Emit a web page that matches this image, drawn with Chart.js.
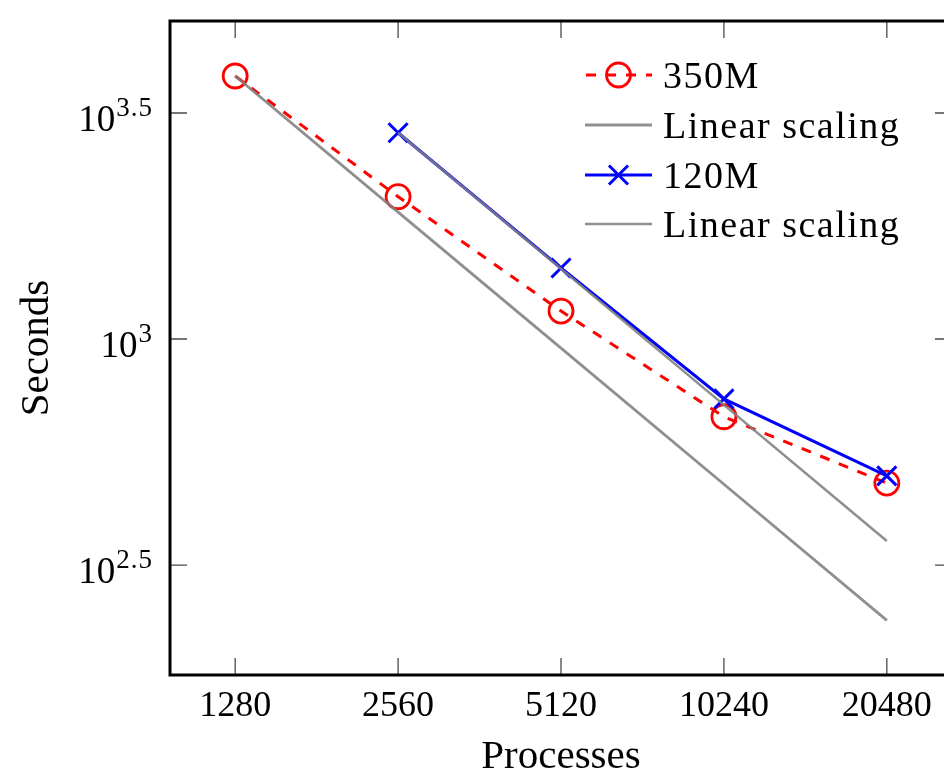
<!DOCTYPE html>
<html>
<head>
<meta charset="utf-8">
<title>Strong scaling</title>
<script src="https://cdn.jsdelivr.net/npm/chart.js@4/dist/chart.umd.min.js"></script>
<style>
  html, body { margin: 0; padding: 0; background: #fff; overflow: hidden; width: 944px; height: 772px; }
  #wrap { position: absolute; left: 0; top: 0; width: 960px; height: 790px; }
</style>
</head>
<body>
<div id="wrap"><canvas id="c" width="960" height="790"></canvas></div>
<script>
// Number of processes (x, log base 2 spacing)
const processes = [1280, 2560, 5120, 10240, 20480];
const xTickLabels = ['1280', '2560', '5120', '10240', '20480'];

// Wall-clock time in seconds
const seconds350M = [3818, 2065, 1153, 673, 480];
const linear350M  = [3818, 1909, 954.5, 477.3, 238.6];
const seconds120M = [null, 2860, 1436, 737, 498];
const linear120M  = [null, 2860, 1430, 715, 357.5];

// y ticks are drawn as powers of ten: 10^e
const yTickExponents = [2.5, 3, 3.5];
const yTickBase = '10';

const seriesNames = ['350M', 'Linear scaling', '120M', 'Linear scaling'];

const SERIF = '"Liberation Serif", "DejaVu Serif", serif';
const RED = 'rgb(255,0,0)';
const BLUE = 'rgb(0,0,255)';
const GRAY = 'rgba(128,128,128,0.88)';

function toPoints(values) {
  const pts = [];
  values.forEach((v, i) => { if (v !== null) pts.push({ x: processes[i], y: v }); });
  return pts;
}

const datasets = [
  {
    label: seriesNames[0], data: toPoints(seconds350M), order: 4,
    borderColor: RED, borderWidth: 3, borderDash: [10, 10],
    pointStyle: 'circle', pointRadius: 12, pointBorderWidth: 2.8,
    pointBorderColor: RED, pointBackgroundColor: 'rgba(0,0,0,0)'
  },
  {
    label: seriesNames[1], data: toPoints(linear350M), order: 3,
    borderColor: GRAY, borderWidth: 2.8, pointRadius: 0
  },
  {
    label: seriesNames[2], data: toPoints(seconds120M), order: 2,
    borderColor: BLUE, borderWidth: 3,
    pointStyle: 'crossRot', pointRadius: 13.5, pointBorderWidth: 3,
    pointBorderColor: BLUE, pointBackgroundColor: BLUE
  },
  {
    label: seriesNames[3], data: toPoints(linear120M), order: 1,
    borderColor: GRAY, borderWidth: 2.6, pointRadius: 0
  }
];

// Box frame with inward tick marks on all four sides
const framePlugin = {
  id: 'frame',
  beforeDatasetsDraw(chart) {
    const { ctx, chartArea: a, scales } = chart;
    const len = 17;
    ctx.save();
    ctx.strokeStyle = '#4a4a4a';
    ctx.lineWidth = 1.3;
    ctx.beginPath();
    scales.x.ticks.forEach(t => {
      const px = scales.x.getPixelForValue(t.value);
      ctx.moveTo(px, a.bottom); ctx.lineTo(px, a.bottom - len);
      ctx.moveTo(px, a.top); ctx.lineTo(px, a.top + len);
    });
    scales.y.ticks.forEach(t => {
      const py = scales.y.getPixelForValue(t.value);
      ctx.moveTo(a.left, py); ctx.lineTo(a.left + len, py);
      ctx.moveTo(a.right, py); ctx.lineTo(a.right - len, py);
    });
    ctx.stroke();
    ctx.strokeStyle = '#000';
    ctx.lineWidth = 3;
    ctx.strokeRect(a.left, a.top, a.right - a.left, a.bottom - a.top);
    ctx.restore();
  }
};

// y tick labels as 10 with a raised exponent
const powerLabelPlugin = {
  id: 'powerLabels',
  afterDraw(chart) {
    const { ctx, scales } = chart;
    const y = scales.y;
    const rightEdge = 153;
    ctx.save();
    ctx.fillStyle = '#000';
    ctx.textBaseline = 'alphabetic';
    ctx.textAlign = 'left';
    yTickExponents.forEach(e => {
      const py = y.getPixelForValue(Math.pow(10, e));
      const sup = String(e);
      ctx.font = '27px ' + SERIF;
      ctx.letterSpacing = '1px';
      const supW = ctx.measureText(sup).width;
      ctx.letterSpacing = '0px';
      ctx.font = '37px ' + SERIF;
      const baseW = ctx.measureText(yTickBase).width;
      const supX = rightEdge - supW;
      const baseX = supX - baseW - 1;
      const baseline = py + 17.5;
      ctx.fillText(yTickBase, baseX, baseline);
      ctx.font = '27px ' + SERIF;
      ctx.letterSpacing = '1px';
      ctx.fillText(sup, supX, baseline - 15);
      ctx.letterSpacing = '0px';
    });
    ctx.restore();
  }
};

// Legend drawn inside the plot area, top right
const legendPlugin = {
  id: 'innerLegend',
  afterDraw(chart) {
    const { ctx } = chart;
    const rows = [75, 125, 175, 224];
    const x0 = 585, x1 = 652, xm = 618.5, textX = 663;
    ctx.save();
    chart.data.datasets.forEach((ds, i) => {
      const cy = rows[i];
      ctx.strokeStyle = ds.borderColor;
      ctx.lineWidth = ds.borderWidth;
      ctx.setLineDash(ds.borderDash || []);
      ctx.lineDashOffset = ds.borderDash ? -1 : 0;
      ctx.beginPath();
      ctx.moveTo(x0, cy); ctx.lineTo(x1, cy);
      ctx.stroke();
      ctx.setLineDash([]);
      if (ds.pointRadius > 0) {
        ctx.strokeStyle = ds.pointBorderColor;
        ctx.fillStyle = ds.pointBackgroundColor;
        ctx.lineWidth = ds.pointBorderWidth;
        Chart.helpers.drawPoint(ctx, {
          pointStyle: ds.pointStyle, radius: ds.pointRadius,
          rotation: 0, borderWidth: ds.pointBorderWidth
        }, xm, cy);
      }
      ctx.fillStyle = '#000';
      ctx.font = '38px ' + SERIF;
      ctx.letterSpacing = '1.5px';
      ctx.textAlign = 'left';
      ctx.textBaseline = 'alphabetic';
      ctx.fillText(ds.label, textX, cy + 13);
      ctx.letterSpacing = '0px';
    });
    ctx.restore();
  }
};

new Chart(document.getElementById('c'), {
  type: 'line',
  data: { datasets },
  options: {
    responsive: false,
    animation: false,
    devicePixelRatio: 1,
    layout: { autoPadding: false, padding: { left: 0, top: 21, right: 8, bottom: 0 } },
    plugins: { legend: { display: false }, tooltip: { enabled: false } },
    scales: {
      x: {
        type: 'logarithmic',
        position: 'bottom',
        min: 970,
        max: 27024,
        afterBuildTicks: s => { s.ticks = processes.map(v => ({ value: v })); },
        afterFit: s => { s.height = 115; s.paddingLeft = 0; s.paddingRight = 0; },
        grid: { display: false },
        border: { display: false },
        ticks: {
          autoSkip: false, maxRotation: 0, minRotation: 0, padding: 2,
          color: '#000', font: { family: SERIF, size: 36 },
          callback: v => xTickLabels[processes.indexOf(v)]
        },
        title: {
          display: true, text: 'Processes', color: '#000',
          font: { family: SERIF, size: 41 }, padding: { top: 0, bottom: 8 }
        }
      },
      y: {
        type: 'logarithmic',
        position: 'left',
        min: 180.6,
        max: 5053,
        afterBuildTicks: s => { s.ticks = yTickExponents.map(e => ({ value: Math.pow(10, e) })); },
        afterFit: s => { s.width = 170; s.paddingTop = 0; s.paddingBottom = 0; },
        grid: { display: false },
        border: { display: false },
        ticks: { display: false },
        title: {
          display: true, text: 'Seconds', color: '#000',
          font: { family: SERIF, size: 41 }, padding: { top: 13, bottom: 0 }
        }
      }
    }
  },
  plugins: [framePlugin, powerLabelPlugin, legendPlugin]
});
</script>
</body>
</html>
